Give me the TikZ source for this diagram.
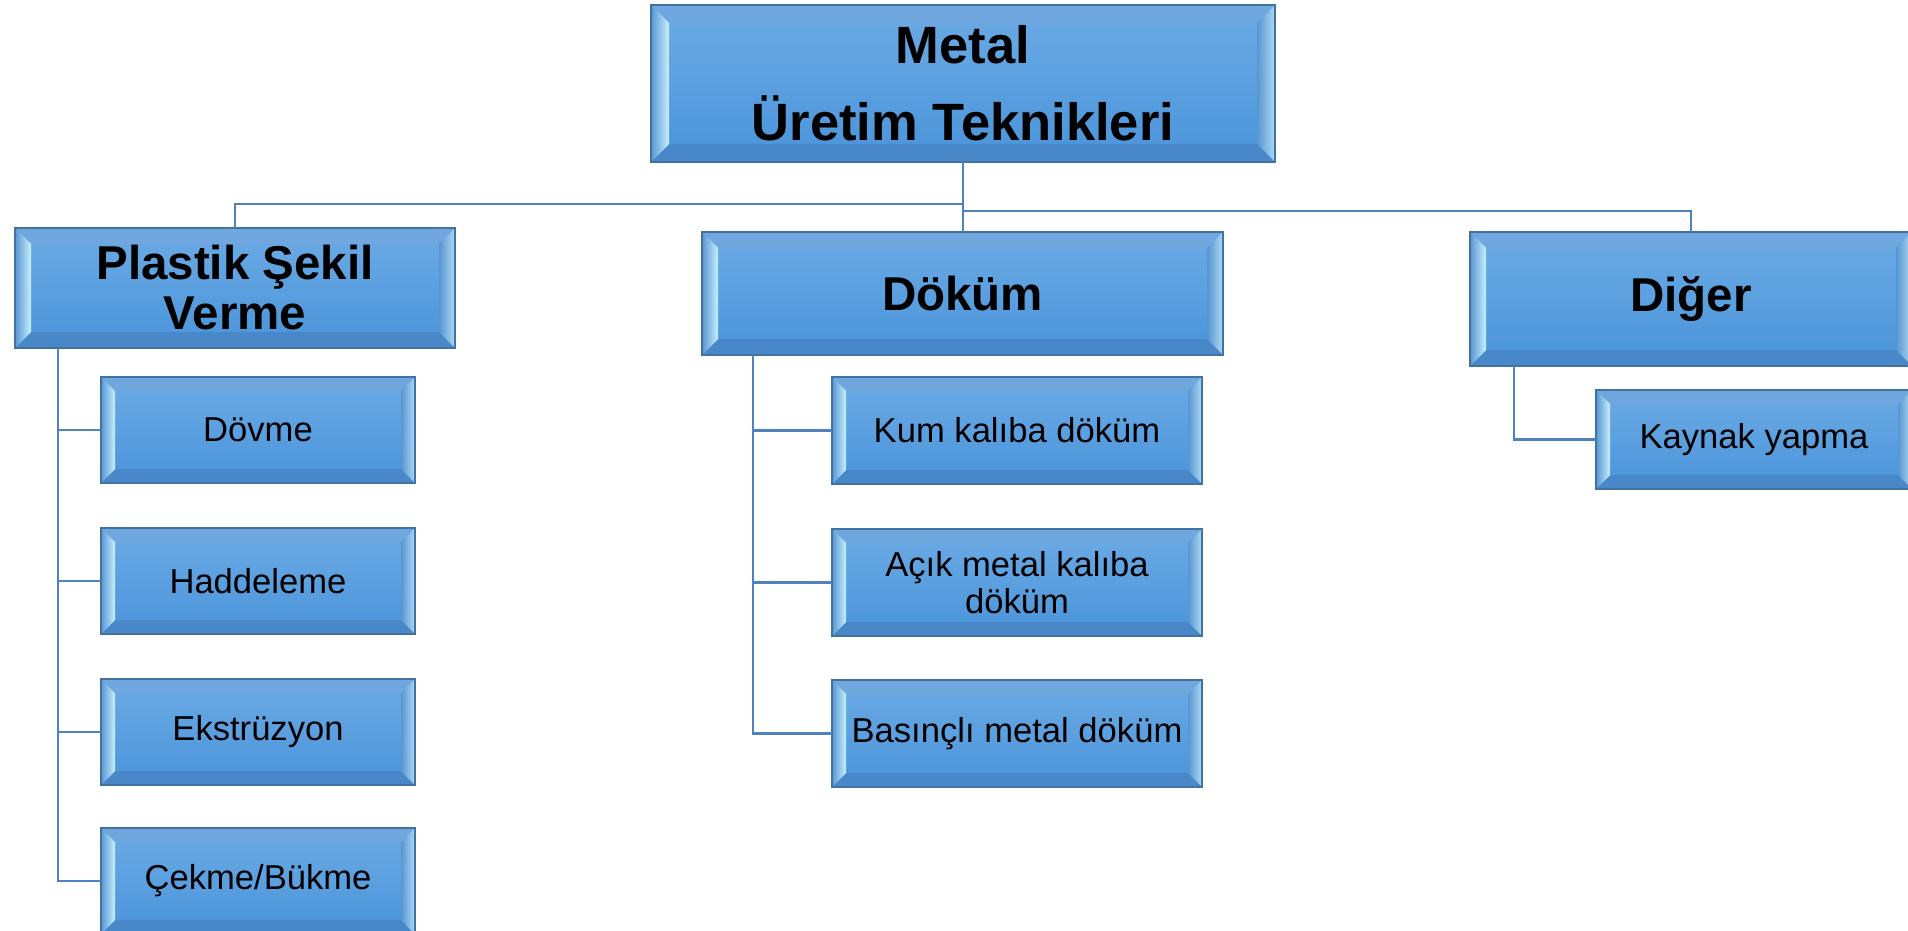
\documentclass[tikz,border=0pt]{standalone}
\usepackage{fontspec}
\setmainfont{Liberation Sans}

% palette
\definecolor{faceTop}{RGB}{108,171,229}
\definecolor{faceBot}{RGB}{74,148,218}
\definecolor{rim}{RGB}{66,114,160}
\definecolor{bevelTop}{RGB}{112,167,223}
\definecolor{bevelBot}{RGB}{72,136,200}
\definecolor{bevelOut}{RGB}{88,150,210}
\definecolor{bevelIn}{RGB}{200,240,255}
\definecolor{wire}{RGB}{79,129,189}

\tikzset{
  bevel depth/.store in=\bvdepth, bevel depth=7pt,
  bevelbox/.style={rectangle, inner sep=0pt, outer sep=0pt,
    draw=rim, line width=0.9pt, top color=faceTop, bottom color=faceBot,
    align=center, text=black,
    path picture={
      \coordinate (bNW) at (path picture bounding box.north west);
      \coordinate (bNE) at (path picture bounding box.north east);
      \coordinate (bSW) at (path picture bounding box.south west);
      \coordinate (bSE) at (path picture bounding box.south east);
      % top and bottom bevel faces
      \fill[bevelTop] (bNW) -- (bNE) -- ([shift={(-\bvdepth,-\bvdepth)}]bNE)
        -- ([shift={(\bvdepth,-\bvdepth)}]bNW) -- cycle;
      \fill[bevelBot] (bSW) -- (bSE) -- ([shift={(-\bvdepth,\bvdepth)}]bSE)
        -- ([shift={(\bvdepth,\bvdepth)}]bSW) -- cycle;
      % lit side bevels
      \shade[left color=bevelOut, middle color=bevelOut!70!bevelIn, right color=bevelIn]
        (bNW) -- ([shift={(\bvdepth,-\bvdepth)}]bNW)
        -- ([shift={(\bvdepth,\bvdepth)}]bSW) -- (bSW) -- cycle;
      \shade[left color=bevelOut, middle color=bevelIn, right color=bevelIn!75!bevelOut]
        (bNE) -- ([shift={(-\bvdepth,-\bvdepth)}]bNE)
        -- ([shift={(-\bvdepth,\bvdepth)}]bSE) -- (bSE) -- cycle;
    }},
  rootbox/.style={bevelbox, bevel depth=9pt,
    font={\fontsize{26.25pt}{38.5pt}\selectfont\bfseries}},
  groupbox/.style={bevelbox, bevel depth=8pt,
    font={\fontsize{23.75pt}{25pt}\selectfont\bfseries}},
  leafbox/.style={bevelbox, bevel depth=7pt,
    font={\fontsize{17.3pt}{18.3pt}\selectfont}},
  wirestyle/.style={draw=wire, line width=1.4pt},
}

\begin{document}
\begin{tikzpicture}[x=0.5pt, y=-0.5pt]
\useasboundingbox (0,0) rectangle (1908,931);
\clip (0,0) rectangle (1908,931);

% top of the tree
\node[rootbox, minimum width=312pt, minimum height=78.5pt] (root) at (963,83.5)
  {Metal\\Üretim Teknikleri};

% second level
\node[groupbox, minimum width=220pt, minimum height=60pt] (plastik) at (235,288)
  {Plastik Şekil\\Verme};
\node[groupbox, minimum width=260.5pt, minimum height=61.5pt] (dokum) at (962.5,293.5)
  {Döküm};
\node[groupbox, minimum width=221pt, minimum height=67pt] (diger) at (1691,299)
  {Diğer};

% plastic forming methods
\node[leafbox, minimum width=157pt, minimum height=53pt] (dovme) at (258,430) {Dövme};
\node[leafbox, minimum width=157pt, minimum height=53pt] (hadde) at (258,581) {Haddeleme};
\node[leafbox, minimum width=157pt, minimum height=53pt] (ekstr) at (258,732) {Ekstrüzyon};
\node[leafbox, minimum width=157pt, minimum height=53pt] (cekme) at (258,881) {Çekme/Bükme};

% casting methods
\node[leafbox, minimum width=185pt, minimum height=53.5pt] (kum) at (1017,430.5) {Kum kalıba döküm};
\node[leafbox, minimum width=185pt, minimum height=53.5pt] (acik) at (1017,582.5) {Açık metal kalıba\\döküm};
\node[leafbox, minimum width=185pt, minimum height=53.5pt] (basinc) at (1017,733.5) {Basınçlı metal döküm};

% other
\node[leafbox, minimum width=158pt, minimum height=49.5pt] (kaynak) at (1754,439.5) {Kaynak yapma};

% connectors from the top
\draw[wirestyle] (root.south) -- ++(0,42) -| (plastik.north);
\draw[wirestyle] (root.south) -- ++(0,49) -| (diger.north);
\draw[wirestyle] (root.south) -- (root.south |- dokum.north);

% trunk lines
\path (plastik.south west) ++(43,0) coordinate (ptrunk);
\path (dokum.south west) ++(51,0) coordinate (dtrunk);
\path (diger.south west) ++(44,0) coordinate (gtrunk);

\foreach \leaf in {dovme, hadde, ekstr, cekme}
  \draw[wirestyle] (ptrunk) |- (\leaf.west);
\foreach \leaf in {kum, acik, basinc}
  \draw[wirestyle] (dtrunk) |- (\leaf.west);
\draw[wirestyle] (gtrunk) |- (kaynak.west);
\end{tikzpicture}
\end{document}
